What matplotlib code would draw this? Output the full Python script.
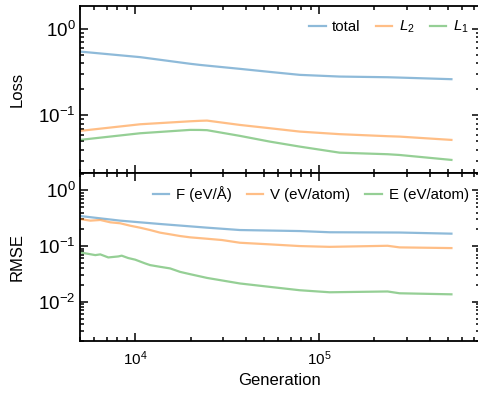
import numpy as np
import matplotlib
matplotlib.use("Agg")
import matplotlib.pyplot as plt

# loss curves (top panel)
gen_loss = [5000, 10650, 19880, 22530, 24590, 37130, 54010, 78590, 129500, 236000, 274100, 525000]
total = [0.5465, 0.471, 0.395, 0.383, 0.376, 0.345, 0.318, 0.294, 0.281, 0.276, 0.2735, 0.262]
l2 = [0.0662, 0.079, 0.0855, 0.0866, 0.0871, 0.0776, 0.0711, 0.065, 0.0607, 0.0575, 0.0569, 0.0521]
l1 = [0.0521, 0.0622, 0.068, 0.0679, 0.0675, 0.058, 0.0498, 0.0436, 0.0371, 0.0356, 0.0349, 0.0306]

# rmse curves (bottom panel)
gen_f = [5000, 8290, 13670, 24590, 37130, 78590, 114300, 274100, 525000]
rmse_f = [0.347, 0.286, 0.249, 0.214, 0.194, 0.186, 0.177, 0.175, 0.167]

gen_v = [5000, 5700, 6460, 7320, 8290, 9400, 10650, 12060, 13670, 15490, 17550, 19880,
         24590, 29660, 37130, 54010, 78590, 114300, 236000, 274100, 525000]
rmse_v = [0.3065, 0.286, 0.294, 0.267, 0.2565, 0.232, 0.2136, 0.194, 0.174, 0.1625, 0.1514,
          0.1435, 0.1354, 0.1283, 0.1147, 0.1073, 0.1, 0.0968, 0.1012, 0.0947, 0.092]

gen_e = [5000, 6070, 6460, 7140, 8090, 8450, 9160, 10000, 11330, 12060, 13670, 15490,
         17550, 19880, 24590, 37130, 54010, 78590, 114300, 236000, 274100, 525000]
rmse_e = [0.077, 0.0688, 0.0709, 0.0625, 0.0651, 0.0672, 0.061, 0.057, 0.0488, 0.0455,
          0.0424, 0.0397, 0.0344, 0.0313, 0.0268, 0.0213, 0.0185, 0.0161, 0.0148, 0.0153,
          0.0142, 0.0136]

plt.rcParams['font.family'] = ['Liberation Sans', 'DejaVu Sans']
plt.rcParams['mathtext.fontset'] = 'custom'
plt.rcParams['mathtext.rm'] = 'Liberation Sans'
plt.rcParams['mathtext.it'] = 'Liberation Sans:italic'
plt.rcParams['font.size'] = 12
plt.rcParams['axes.linewidth'] = 1.3

fig = plt.figure(figsize=(4.78, 3.95), dpi=100)
ax1 = fig.add_axes([0.167, 0.562, 0.837, 0.423])
ax2 = fig.add_axes([0.167, 0.1375, 0.837, 0.4245], sharex=ax1)

lw = 1.6
al = 0.5
ax1.plot(gen_loss, total, color='tab:blue', alpha=al, lw=lw, label='total')
ax1.plot(gen_loss, l2, color='tab:orange', alpha=al, lw=lw, label='$L_2$')
ax1.plot(gen_loss, l1, color='tab:green', alpha=al, lw=lw, label='$L_1$')

ax2.plot(gen_f, rmse_f, color='tab:blue', alpha=al, lw=lw, label='F (eV/Å)')
ax2.plot(gen_v, rmse_v, color='tab:orange', alpha=al, lw=lw, label='V (eV/atom)')
ax2.plot(gen_e, rmse_e, color='tab:green', alpha=al, lw=lw, label='E (eV/atom)')

for ax in (ax1, ax2):
    ax.set_xscale('log')
    ax.set_yscale('log')
    ax.tick_params(which='both', direction='in', top=True, right=True, width=1.1)
    ax.tick_params(which='major', length=6)
    ax.tick_params(which='minor', length=3)
    ax.tick_params(axis='y', labelsize=13.5, pad=3)
    ax.tick_params(axis='x', labelsize=11, pad=6)
    ax.legend(loc='upper right', ncol=3, frameon=False, handlelength=1.1,
              handletextpad=0.45, columnspacing=1.0, fontsize=10.8,
              bbox_to_anchor=(1.0, 0.99), borderaxespad=0.35)

ax1.set_xlim(5000, 750000)
ax1.set_ylim(0.0216, 1.84)
ax2.set_ylim(0.002, 2.05)
ax1.tick_params(labelbottom=False)
ax1.set_ylabel('Loss', labelpad=10)
ax2.set_ylabel('RMSE', labelpad=10)
ax2.set_xlabel('Generation')

fig.savefig('out.png', dpi=100)
